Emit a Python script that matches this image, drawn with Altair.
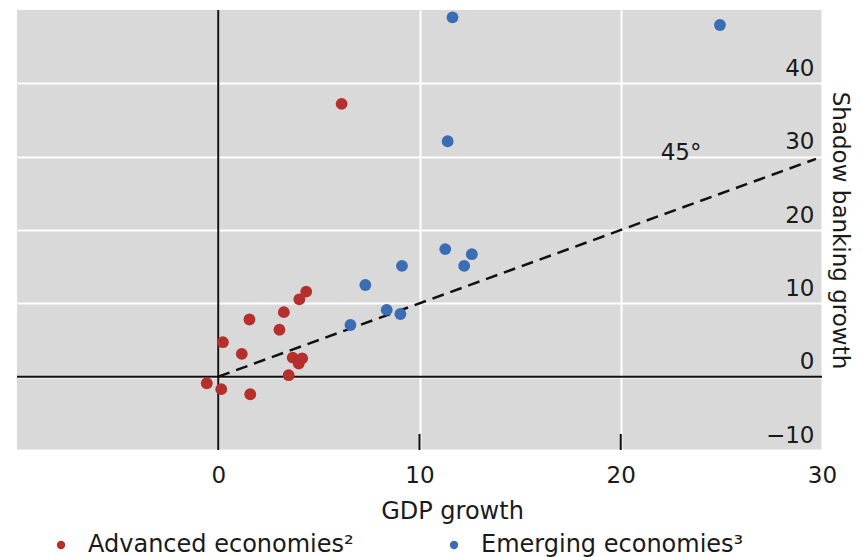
import altair as alt
import pandas as pd

# ---- data ----
adv_x = [4.37, 4.03, 3.26, 1.55, 3.04, 0.23, 1.17, 3.70, 4.17, 4.00, 3.50, -0.57, 0.15, 1.59, 6.13]
adv_y = [11.6, 10.55, 8.8, 7.8, 6.4, 4.7, 3.1, 2.6, 2.5, 1.8, 0.2, -0.9, -1.7, -2.4, 37.2]
em_x = [11.28, 12.60, 12.22, 9.13, 7.31, 8.37, 9.05, 6.57, 11.64, 11.40, 24.93]
em_y = [17.4, 16.7, 15.1, 15.1, 12.5, 9.1, 8.55, 7.05, 49.0, 32.1, 47.95]
groups = ["Advanced economies²", "Emerging economies³"]
line45 = [0, 29.7]
x_ticks = [0, 10, 20, 30]
y_ticks = [-10, 0, 10, 20, 30, 40]
inner_ticks = [10, 20]
label45 = "45°"
label45_pos = (23.0, 30.5)

RED = "#b5302d"
BLUE = "#3b6db5"
FONT = "DejaVu Sans"
FS = 23
FS_BIG = 24

pts = pd.DataFrame({
    "x": adv_x + em_x,
    "y": adv_y + em_y,
    "g": [groups[0]] * len(adv_x) + [groups[1]] * len(em_x),
})

xs = alt.Scale(domain=[-10, 30], nice=False, zero=False)
ys = alt.Scale(domain=[-10, 50], nice=False, zero=False)

W, H = 805, 440

base_axes = alt.Chart(pd.DataFrame({"x": [0], "y": [0]})).mark_point(opacity=0).encode(
    x=alt.X("x:Q", scale=xs, axis=alt.Axis(
        values=x_ticks, grid=True, gridColor="white", gridWidth=2, labelFlush=False,
        ticks=False, domain=False, labelPadding=14, labelFont=FONT, labelFontSize=FS,
        labelColor="#1a1a1a", title="GDP growth", titleFont=FONT, titleFontSize=FS_BIG,
        titleFontWeight="normal", titleColor="#1a1a1a", titleX=435, titleY=68,
        titleBaseline="alphabetic", titleAlign="center")),
    y=alt.Y("y:Q", scale=ys, axis=alt.Axis(
        orient="right", values=y_ticks, grid=True, gridColor="white", gridWidth=2,
        labelFlush=False,
        ticks=False, domain=False, labelAlign="right", labelPadding=-8,
        labelBaseline="alphabetic", labelOffset=-8, labelFont=FONT, labelFontSize=FS,
        labelColor="#1a1a1a", title="Shadow banking growth", titleFont=FONT,
        titleFontSize=FS, titleFontWeight="normal", titleColor="#1a1a1a",
        titleAngle=90, titleX=17, titleY=220, titleAlign="center",
        titleBaseline="middle")),
)

zero_v = alt.Chart(pd.DataFrame({"x": [0]})).mark_rule(color="#111111", strokeWidth=2).encode(
    x=alt.X("x:Q", scale=xs))
zero_h = alt.Chart(pd.DataFrame({"y": [0]})).mark_rule(color="#111111", strokeWidth=2).encode(
    y=alt.Y("y:Q", scale=ys))

ticks = alt.Chart(pd.DataFrame({"x": inner_ticks})).mark_rule(color="#111111", strokeWidth=2).encode(
    x=alt.X("x:Q", scale=xs), y=alt.value(H), y2=alt.value(H - 16))

diag = alt.Chart(pd.DataFrame({"x": line45, "y": line45})).mark_line(
    color="#111111", strokeWidth=2.5, strokeDash=[12, 7]).encode(
    x=alt.X("x:Q", scale=xs), y=alt.Y("y:Q", scale=ys))

lbl = alt.Chart(pd.DataFrame({"x": [label45_pos[0]], "y": [label45_pos[1]], "t": [label45]})).mark_text(
    font=FONT, fontSize=FS, color="#1a1a1a", align="center", baseline="middle").encode(
    x=alt.X("x:Q", scale=xs), y=alt.Y("y:Q", scale=ys), text="t:N")

points = alt.Chart(pts).mark_circle(size=140, opacity=1).encode(
    x=alt.X("x:Q", scale=xs),
    y=alt.Y("y:Q", scale=ys),
    color=alt.Color("g:N", scale=alt.Scale(domain=groups, range=[RED, BLUE]),
                    legend=alt.Legend(orient="none", legendX=32, legendY=523,
                                      direction="horizontal", title=None,
                                      labelFont=FONT, labelFontSize=FS_BIG,
                                      labelColor="#1a1a1a", symbolType="circle",
                                      symbolSize=70, symbolStrokeWidth=0,
                                      labelOffset=15, columnPadding=88,
                                      labelLimit=400)),
)

chart = alt.layer(base_axes, zero_v, zero_h, ticks, diag, lbl, points).properties(
    width=W, height=H,
    autosize=alt.AutoSizeParams(type="none"),
    padding={"left": 17, "top": 10, "right": 40, "bottom": 107},
    background="white",
).configure_view(fill="#d9d9d9", stroke=None)

chart.save("out.html", embed_options={"renderer": "svg", "actions": False})
